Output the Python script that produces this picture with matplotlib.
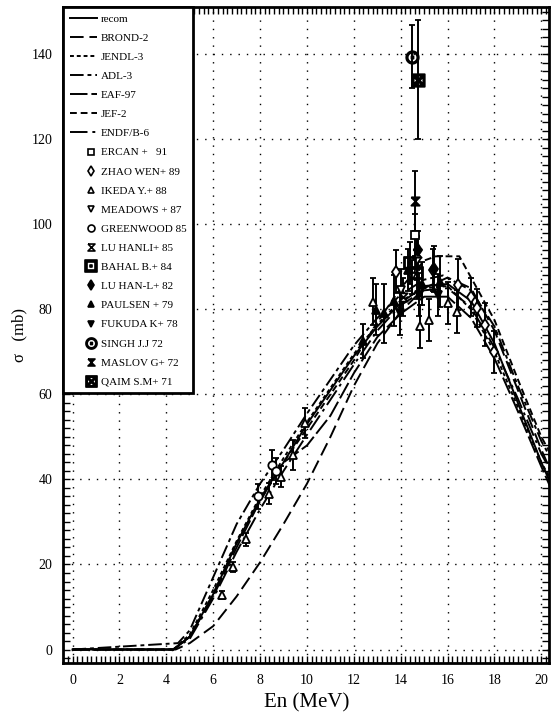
import matplotlib
matplotlib.use("Agg")
import matplotlib.pyplot as plt
from matplotlib.ticker import MultipleLocator
from matplotlib.lines import Line2D
from matplotlib.legend_handler import HandlerLine2D

plt.rcParams['font.family'] = ['Liberation Serif', 'DejaVu Serif']

# evaluated curves
E_recom = [0, 4.3, 5, 6, 7, 8, 9, 10, 11, 12, 13, 14, 15, 16, 17, 18, 19, 20, 20.4]
s_recom = [0, 0, 3, 13, 25, 35.5, 44, 53, 61, 69, 76, 81.5, 85.5, 86, 82, 72, 58, 44, 39]
E_brond = [0, 4.4, 5, 6, 7, 8, 9, 10, 11, 12, 13, 14, 15, 16, 17, 18, 19, 20, 20.4]
s_brond = [0, 0, 1.5, 5.5, 12.5, 20.5, 29.5, 39, 50, 62, 72, 79.5, 85, 87.5, 85, 75, 61, 47, 42]
E_jendl = [0, 4.3, 5, 6, 7, 8, 9, 10, 12, 13, 14, 15, 16, 17, 18, 19, 20, 20.4]
s_jendl = [0, 0, 3.5, 14, 25.5, 36, 45, 53.5, 69.5, 76.5, 82, 85, 85.5, 80, 70, 57, 44, 40]
E_adl = [0, 4.5, 5, 6, 7, 8, 9, 10, 12, 13, 14, 15, 15.8, 17, 18, 19, 20, 20.4]
s_adl = [0, 1.5, 4.5, 17, 29.5, 39, 47, 55.5, 71.5, 78, 83.5, 87, 88, 84.5, 76, 62, 49, 45]
E_eaf = [0, 4.3, 5, 6, 7, 8, 9, 9.5, 10, 11, 12, 13, 14, 15, 16, 17, 18, 19, 20, 20.4]
s_eaf = [0, 0, 3, 12.5, 24, 35, 44, 46, 48, 55, 65, 73.5, 79, 83, 83, 78, 68.5, 56, 43, 38]
E_jef = [0, 4.3, 5, 6, 7, 8, 9, 10, 12, 13, 14, 15, 15.5, 16.5, 17, 18, 19, 20, 20.4]
s_jef = [0, 0, 3, 13, 25, 35, 44, 52, 68, 77, 85, 91.5, 92.5, 92.5, 87.5, 77.5, 63.5, 50, 46]
E_endf = [0, 4.3, 5, 6, 7, 8, 9, 10, 12, 13, 14, 15, 16, 17, 18, 19, 20, 20.4]
s_endf = [0, 0, 2.5, 12, 23, 33, 42, 50.5, 67, 75, 81, 84.5, 85, 80.5, 71, 59, 46, 42]

# measurements (E, sigma, error)
E_ercan = [14.62]
s_ercan = [97.5]
d_ercan = [5.0]
E_zhao = [13.8, 14.7, 15.39, 16.45, 16.98, 17.27, 17.6, 18.0]
s_zhao = [88.9, 92.0, 89.3, 85.8, 83.0, 80.3, 76.4, 70.0]
d_zhao = [5.0, 5.0, 5.0, 6.0, 4.5, 4.5, 5.0, 5.0]
E_ikeda = [6.36, 6.86, 7.4, 8.38, 8.89, 9.39, 9.91, 12.83, 14.82, 15.22, 16.03, 16.41]
s_ikeda = [12.8, 19.5, 25.9, 36.7, 40.7, 45.8, 53.2, 81.8, 76.0, 77.5, 81.5, 79.5]
d_ikeda = [1.0, 1.2, 1.5, 2.5, 2.5, 3.5, 3.5, 5.5, 5.0, 5.0, 5.0, 5.0]
E_meadows = [14.0, 14.5]
s_meadows = [84.6, 87.7]
d_meadows = [5.0, 4.0]
E_green = [7.9, 8.5, 8.7]
s_green = [36.0, 43.4, 42.0]
d_green = [3.0, 3.5, 3.0]
E_luhanli = [14.1, 14.69]
s_luhanli = [83.0, 93.3]
d_luhanli = [4.5, 4.0]
E_bahal = [14.4, 14.7]
s_bahal = [90.9, 88.5]
d_bahal = [5.0, 6.0]
E_luhanl = [14.75, 15.4]
s_luhanl = [94.0, 89.5]
d_luhanl = [4.5, 5.5]
E_paulsen = [12.4, 12.95, 13.27, 13.7, 14.29, 14.9, 15.66]
s_paulsen = [72.5, 79.9, 79.1, 82.0, 89.3, 86.1, 86.5]
d_paulsen = [4.0, 6.0, 7.0, 6.0, 5.0, 5.0, 6.0]
E_fukuda = [13.98, 14.8, 15.6]
s_fukuda = [79.1, 83.5, 83.4]
d_fukuda = [5.0, 5.0, 5.0]
E_singh = [14.5]
s_singh = [139.5]
d_singh = [7.5]
E_maslov = [14.6]
s_maslov = [105.5]
d_maslov = [7.0]
E_qaim = [14.72]
s_qaim = [134.0]
d_qaim = [14.0]

hourglass = [(-1, 1), (1, 1), (-1, -1), (1, -1), (-1, 1)]

curves = [
    (E_recom, s_recom, 'recom', '-'),
    (E_brond, s_brond, 'BROND-2', (0, (7, 3))),
    (E_jendl, s_jendl, 'JENDL-3', (0, (2, 1.5))),
    (E_adl, s_adl, 'ADL-3', (0, (7, 2, 2, 2))),
    (E_eaf, s_eaf, 'EAF-97', (0, (9, 2))),
    (E_jef, s_jef, 'JEF-2', (0, (3.5, 2))),
    (E_endf, s_endf, 'ENDF/B-6', (0, (9, 2.5, 1.5, 2.5))),
]

exps = [
    (E_ercan, s_ercan, d_ercan, 'ERCAN +   91', 's', 'white'),
    (E_zhao, s_zhao, d_zhao, 'ZHAO WEN+ 89', 'd', 'white'),
    (E_ikeda, s_ikeda, d_ikeda, 'IKEDA Y.+ 88', '^', 'white'),
    (E_meadows, s_meadows, d_meadows, 'MEADOWS + 87', 'v', 'white'),
    (E_green, s_green, d_green, 'GREENWOOD 85', 'o', 'white'),
    (E_luhanli, s_luhanli, d_luhanli, 'LU HANLI+ 85', hourglass, 'white'),
    (E_bahal, s_bahal, d_bahal, 'BAHAL B.+ 84', r'$\boxdot$', 'black'),
    (E_luhanl, s_luhanl, d_luhanl, 'LU HAN-L+ 82', 'd', 'black'),
    (E_paulsen, s_paulsen, d_paulsen, 'PAULSEN + 79', '^', 'black'),
    (E_fukuda, s_fukuda, d_fukuda, 'FUKUDA K+ 78', 'v', 'black'),
    (E_singh, s_singh, d_singh, 'SINGH J.J 72', r'$\odot$', 'black'),
    (E_maslov, s_maslov, d_maslov, 'MASLOV G+ 72', hourglass, 'black'),
    (E_qaim, s_qaim, d_qaim, 'QAIM S.M+ 71', r'$\boxtimes$', 'black'),
]


class RightMarker(HandlerLine2D):
    # put the single marker near the right end of the handle, like the original
    def get_xdata(self, legend, xdescent, ydescent, width, height, fontsize):
        x = -xdescent + 0.78 * width
        return [x, x], [x]


fig = plt.figure(figsize=(5.51, 7.2), dpi=100)
ax = fig.add_axes([0.115, 0.079, 0.882, 0.911])

handles = []
for E, s, lab, ls in curves:
    ln, = ax.plot(E, s, color='k', lw=1.4, ls=ls, label=lab)
    handles.append(ln)

hmap = {}
for E, s, d, lab, mk, fc in exps:
    big = isinstance(mk, str) and mk.startswith('$')
    ax.errorbar(E, s, yerr=d, marker=mk, ms=9 if big else 6, mfc=fc, mec='k', mew=1.3,
                ls='none', ecolor='k', elinewidth=1.4, capsize=2.5, capthick=1.4)
    h = Line2D([], [], marker=mk, ms=8 if big else 5, mfc=fc, mec='k', mew=1.2,
               ls='none', label=lab)
    handles.append(h)
    hmap[h] = RightMarker(numpoints=1)

ax.set_xlim(-0.39, 20.34)
ax.set_ylim(-3.2, 151.1)
ax.set_xticks(range(0, 21, 2))
ax.set_yticks(range(0, 141, 20))
ax.xaxis.set_minor_locator(MultipleLocator(0.2))
ax.yaxis.set_minor_locator(MultipleLocator(2))
ax.tick_params(which='both', direction='in', top=True, right=True, length=5, width=1,
               labelsize=10, pad=8)
ax.grid(True, which='major', color='k', ls=(0, (1, 5)), lw=1)
for sp in ax.spines.values():
    sp.set_linewidth(2)

ax.set_xlabel('En (MeV)', fontsize=15, labelpad=4)
ax.set_ylabel('σ   (mb)', fontsize=12)
ax.yaxis.set_label_coords(-0.075, 0.5)

leg = ax.legend(handles=handles, handler_map=hmap, loc='upper left',
                bbox_to_anchor=(0, 1), borderaxespad=0,
                prop={'family': 'Liberation Serif', 'size': 8},
                labelspacing=0.84, handlelength=2.4, handletextpad=0.4,
                borderpad=0.6, fancybox=False, framealpha=1)
leg.get_frame().set_edgecolor('k')
leg.get_frame().set_linewidth(2)

fig.savefig('out.png', dpi=100)
